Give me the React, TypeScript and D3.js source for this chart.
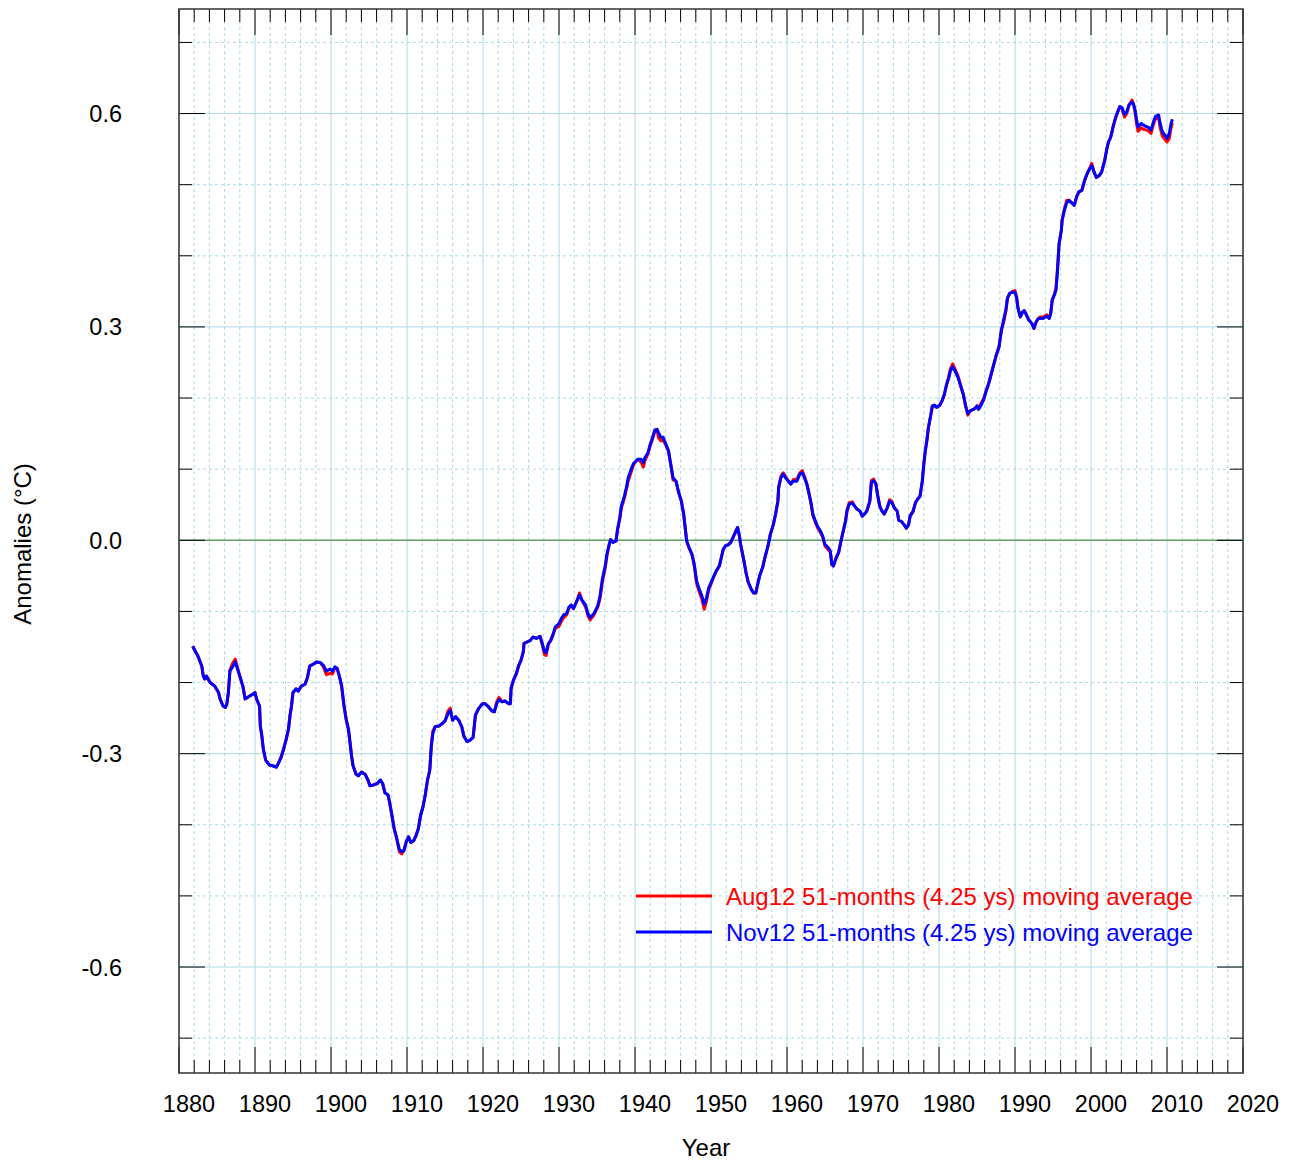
import React from "react";
import * as d3 from "d3";

// 51-month moving averages of global temperature anomalies (°C)
const nov12: [number, number][] = [
  [1881.8, -0.149], [1882.5, -0.163], [1883.0, -0.177], [1883.2, -0.191], [1883.4, -0.195], [1883.6, -0.191],
  [1884.1, -0.2], [1884.7, -0.205], [1885.2, -0.214], [1885.4, -0.223], [1885.8, -0.233], [1886.1, -0.235],
  [1886.3, -0.23], [1886.5, -0.214], [1886.7, -0.184], [1887.1, -0.177], [1887.4, -0.171], [1887.7, -0.181],
  [1888.0, -0.191], [1888.4, -0.205], [1888.7, -0.223], [1889.0, -0.221], [1889.3, -0.219], [1889.8, -0.216],
  [1890.0, -0.214], [1890.2, -0.223], [1890.6, -0.233], [1890.7, -0.261], [1890.9, -0.275], [1891.1, -0.294],
  [1891.4, -0.309], [1891.9, -0.316], [1892.3, -0.317], [1892.8, -0.319], [1893.1, -0.313], [1893.4, -0.306],
  [1893.7, -0.296], [1894.1, -0.28], [1894.4, -0.266], [1894.6, -0.247], [1894.8, -0.233], [1895.0, -0.214],
  [1895.4, -0.209], [1895.7, -0.212], [1896.1, -0.205], [1896.6, -0.202], [1896.9, -0.193], [1897.2, -0.177],
  [1897.7, -0.174], [1898.1, -0.171], [1898.6, -0.172], [1899.0, -0.176], [1899.4, -0.184], [1899.9, -0.181],
  [1900.2, -0.184], [1900.5, -0.178], [1900.8, -0.18], [1901.1, -0.191], [1901.4, -0.205], [1901.7, -0.233],
  [1902.0, -0.252], [1902.3, -0.266], [1902.5, -0.284], [1902.7, -0.303], [1902.9, -0.317], [1903.3, -0.329],
  [1903.6, -0.331], [1904.0, -0.326], [1904.5, -0.329], [1904.9, -0.338], [1905.1, -0.345], [1905.6, -0.344],
  [1906.1, -0.342], [1906.5, -0.337], [1906.8, -0.342], [1907.1, -0.355], [1907.5, -0.358], [1907.7, -0.368],
  [1908.0, -0.386], [1908.3, -0.405], [1908.6, -0.417], [1908.8, -0.426], [1909.0, -0.435], [1909.3, -0.438],
  [1909.6, -0.436], [1909.9, -0.424], [1910.2, -0.417], [1910.5, -0.425], [1910.9, -0.422], [1911.2, -0.415],
  [1911.5, -0.405], [1911.8, -0.386], [1912.1, -0.375], [1912.4, -0.358], [1912.7, -0.337], [1913.0, -0.323],
  [1913.2, -0.29], [1913.4, -0.272], [1913.7, -0.262], [1914.2, -0.261], [1914.6, -0.258], [1915.0, -0.254],
  [1915.4, -0.244], [1915.7, -0.239], [1916.0, -0.253], [1916.4, -0.248], [1916.8, -0.253], [1917.2, -0.262],
  [1917.5, -0.276], [1917.9, -0.283], [1918.3, -0.281], [1918.7, -0.277], [1919.0, -0.246], [1919.4, -0.237],
  [1919.9, -0.23], [1920.3, -0.23], [1920.7, -0.234], [1921.2, -0.24], [1921.5, -0.241], [1921.8, -0.23],
  [1922.1, -0.224], [1922.5, -0.227], [1922.9, -0.226], [1923.4, -0.23], [1923.6, -0.23], [1923.7, -0.208],
  [1924.0, -0.197], [1924.4, -0.187], [1924.7, -0.176], [1925.0, -0.169], [1925.3, -0.157], [1925.4, -0.145],
  [1925.8, -0.143], [1926.2, -0.141], [1926.6, -0.136], [1927.0, -0.138], [1927.5, -0.135], [1927.8, -0.145],
  [1928.1, -0.157], [1928.3, -0.158], [1928.6, -0.145], [1928.9, -0.141], [1929.2, -0.133], [1929.5, -0.122],
  [1930.0, -0.117], [1930.3, -0.11], [1930.6, -0.105], [1931.0, -0.103], [1931.3, -0.094], [1931.6, -0.091],
  [1931.9, -0.096], [1932.4, -0.084], [1932.7, -0.077], [1933.0, -0.084], [1933.5, -0.091], [1933.8, -0.103],
  [1934.1, -0.109], [1934.6, -0.103], [1935.1, -0.092], [1935.4, -0.078], [1935.7, -0.055], [1936.1, -0.035],
  [1936.3, -0.02], [1936.6, -0.006], [1936.8, 0.001], [1937.1, -0.003], [1937.5, -0.001], [1937.7, 0.015],
  [1938.0, 0.032], [1938.2, 0.048], [1938.6, 0.062], [1938.9, 0.076], [1939.1, 0.088], [1939.5, 0.1],
  [1939.8, 0.108], [1940.1, 0.111], [1940.4, 0.114], [1940.8, 0.114], [1941.1, 0.109], [1941.3, 0.116],
  [1941.7, 0.123], [1942.0, 0.135], [1942.3, 0.144], [1942.6, 0.155], [1942.9, 0.156], [1943.1, 0.151],
  [1943.4, 0.145], [1943.7, 0.145], [1944.0, 0.137], [1944.4, 0.126], [1944.7, 0.107], [1945.0, 0.088],
  [1945.4, 0.083], [1945.7, 0.069], [1946.1, 0.055], [1946.4, 0.037], [1946.6, 0.018], [1946.8, -0.001],
  [1947.1, -0.01], [1947.5, -0.02], [1947.8, -0.034], [1948.1, -0.057], [1948.4, -0.067], [1948.8, -0.078],
  [1949.1, -0.09], [1949.4, -0.081], [1949.7, -0.067], [1950.1, -0.057], [1950.4, -0.05], [1950.7, -0.043],
  [1951.1, -0.036], [1951.3, -0.027], [1951.6, -0.013], [1951.9, -0.008], [1952.3, -0.006], [1952.6, -0.003],
  [1952.9, 0.004], [1953.2, 0.011], [1953.5, 0.018], [1953.7, 0.008], [1953.9, -0.006], [1954.3, -0.027],
  [1954.6, -0.045], [1954.9, -0.059], [1955.3, -0.069], [1955.6, -0.074], [1955.9, -0.074], [1956.1, -0.064],
  [1956.4, -0.05], [1956.8, -0.038], [1957.1, -0.024], [1957.5, -0.008], [1957.8, 0.008], [1958.2, 0.022],
  [1958.5, 0.037], [1958.8, 0.055], [1958.9, 0.074], [1959.2, 0.088], [1959.5, 0.093], [1959.8, 0.088],
  [1960.2, 0.083], [1960.5, 0.079], [1960.8, 0.083], [1961.3, 0.083], [1961.7, 0.093], [1962.0, 0.095],
  [1962.3, 0.088], [1962.6, 0.079], [1962.9, 0.065], [1963.2, 0.051], [1963.4, 0.037], [1963.7, 0.028],
  [1964.0, 0.02], [1964.4, 0.013], [1964.7, 0.006], [1965.0, -0.006], [1965.4, -0.01], [1965.7, -0.015],
  [1965.9, -0.034], [1966.1, -0.036], [1966.5, -0.024], [1966.8, -0.017], [1967.1, -0.001], [1967.4, 0.013],
  [1967.7, 0.027], [1967.9, 0.041], [1968.2, 0.051], [1968.6, 0.052], [1968.9, 0.048], [1969.2, 0.044],
  [1969.6, 0.041], [1969.9, 0.034], [1970.2, 0.037], [1970.5, 0.041], [1970.9, 0.055], [1971.1, 0.081],
  [1971.4, 0.084], [1971.7, 0.079], [1971.9, 0.065], [1972.2, 0.048], [1972.5, 0.041], [1972.8, 0.037],
  [1973.2, 0.046], [1973.5, 0.055], [1973.8, 0.053], [1974.1, 0.046], [1974.5, 0.041], [1974.7, 0.028],
  [1975.0, 0.027], [1975.4, 0.022], [1975.7, 0.017], [1976.0, 0.022], [1976.2, 0.034], [1976.6, 0.041],
  [1976.9, 0.053], [1977.2, 0.058], [1977.5, 0.062], [1977.8, 0.083], [1978.0, 0.107], [1978.2, 0.126],
  [1978.4, 0.14], [1978.6, 0.158], [1978.9, 0.175], [1979.1, 0.189], [1979.4, 0.19], [1979.7, 0.187],
  [1980.1, 0.19], [1980.4, 0.196], [1980.7, 0.205], [1981.0, 0.219], [1981.3, 0.229], [1981.5, 0.238],
  [1981.8, 0.244], [1982.1, 0.238], [1982.5, 0.229], [1982.8, 0.219], [1983.2, 0.205], [1983.5, 0.189],
  [1983.8, 0.178], [1984.1, 0.182], [1984.5, 0.184], [1984.8, 0.186], [1985.0, 0.189], [1985.2, 0.184],
  [1985.5, 0.189], [1985.9, 0.198], [1986.2, 0.21], [1986.5, 0.219], [1986.8, 0.231], [1987.2, 0.247],
  [1987.5, 0.259], [1987.9, 0.272], [1988.2, 0.295], [1988.5, 0.31], [1988.8, 0.324], [1989.0, 0.34],
  [1989.3, 0.347], [1989.6, 0.349], [1990.0, 0.348], [1990.2, 0.342], [1990.4, 0.326], [1990.7, 0.314],
  [1991.0, 0.321], [1991.2, 0.323], [1991.5, 0.317], [1991.8, 0.31], [1992.2, 0.305], [1992.5, 0.298],
  [1992.7, 0.305], [1993.0, 0.311], [1993.3, 0.312], [1993.7, 0.312], [1994.2, 0.315], [1994.5, 0.312],
  [1994.7, 0.319], [1994.9, 0.338], [1995.2, 0.345], [1995.4, 0.352], [1995.6, 0.38], [1995.8, 0.417],
  [1996.1, 0.436], [1996.2, 0.45], [1996.5, 0.464], [1996.8, 0.474], [1997.1, 0.478], [1997.5, 0.474],
  [1997.8, 0.471], [1998.1, 0.483], [1998.4, 0.49], [1998.8, 0.492], [1999.1, 0.504], [1999.4, 0.513],
  [1999.7, 0.52], [2000.1, 0.527], [2000.4, 0.518], [2000.7, 0.51], [2001.1, 0.513], [2001.4, 0.518],
  [2001.8, 0.534], [2002.1, 0.551], [2002.3, 0.56], [2002.6, 0.567], [2002.9, 0.581], [2003.2, 0.593],
  [2003.5, 0.602], [2003.8, 0.61], [2004.1, 0.608], [2004.4, 0.599], [2004.7, 0.602], [2005.0, 0.612],
  [2005.4, 0.616], [2005.6, 0.613], [2005.8, 0.605], [2006.0, 0.591], [2006.2, 0.581], [2006.6, 0.586],
  [2006.9, 0.584], [2007.2, 0.582], [2007.5, 0.581], [2007.9, 0.577], [2008.2, 0.588], [2008.5, 0.596],
  [2008.9, 0.598], [2009.1, 0.586], [2009.4, 0.574], [2009.7, 0.57], [2010.0, 0.565], [2010.3, 0.572],
  [2010.5, 0.584], [2010.7, 0.592],
];

// Aug12 version: nearly the same, only differs where red shows from under the blue
const aug12: [number, number][] = [
  [1881.8, -0.149], [1882.5, -0.163], [1883.0, -0.177], [1883.2, -0.191], [1883.4, -0.195], [1883.6, -0.191],
  [1884.1, -0.2], [1884.7, -0.205], [1885.2, -0.214], [1885.4, -0.223], [1885.8, -0.233], [1886.1, -0.235],
  [1886.3, -0.23], [1886.5, -0.214], [1886.7, -0.182], [1887.1, -0.172], [1887.4, -0.167], [1887.7, -0.179],
  [1888.0, -0.191], [1888.4, -0.205], [1888.7, -0.223], [1889.0, -0.221], [1889.3, -0.219], [1889.8, -0.216],
  [1890.0, -0.214], [1890.2, -0.223], [1890.6, -0.233], [1890.7, -0.261], [1890.9, -0.275], [1891.1, -0.294],
  [1891.4, -0.309], [1891.9, -0.316], [1892.3, -0.317], [1892.8, -0.319], [1893.1, -0.313], [1893.4, -0.306],
  [1893.7, -0.296], [1894.1, -0.28], [1894.4, -0.266], [1894.6, -0.247], [1894.8, -0.233], [1895.0, -0.214],
  [1895.4, -0.209], [1895.7, -0.212], [1896.1, -0.205], [1896.6, -0.202], [1896.9, -0.193], [1897.2, -0.177],
  [1897.7, -0.174], [1898.1, -0.171], [1898.6, -0.172], [1899.0, -0.178], [1899.4, -0.189], [1899.9, -0.187],
  [1900.2, -0.188], [1900.5, -0.18], [1900.8, -0.18], [1901.1, -0.191], [1901.4, -0.205], [1901.7, -0.23],
  [1902.0, -0.252], [1902.3, -0.266], [1902.5, -0.284], [1902.7, -0.303], [1902.9, -0.317], [1903.3, -0.329],
  [1903.6, -0.331], [1904.0, -0.326], [1904.5, -0.329], [1904.9, -0.338], [1905.1, -0.345], [1905.6, -0.344],
  [1906.1, -0.342], [1906.5, -0.337], [1906.8, -0.342], [1907.1, -0.355], [1907.5, -0.358], [1907.7, -0.368],
  [1908.0, -0.386], [1908.3, -0.405], [1908.6, -0.417], [1908.8, -0.428], [1909.0, -0.438], [1909.3, -0.441],
  [1909.6, -0.436], [1909.9, -0.424], [1910.2, -0.417], [1910.5, -0.425], [1910.9, -0.422], [1911.2, -0.415],
  [1911.5, -0.405], [1911.8, -0.386], [1912.1, -0.375], [1912.4, -0.358], [1912.7, -0.337], [1913.0, -0.323],
  [1913.2, -0.287], [1913.4, -0.268], [1913.7, -0.262], [1914.2, -0.261], [1914.6, -0.258], [1915.0, -0.254],
  [1915.4, -0.24], [1915.7, -0.236], [1916.0, -0.253], [1916.4, -0.248], [1916.8, -0.253], [1917.2, -0.262],
  [1917.5, -0.276], [1917.9, -0.283], [1918.3, -0.281], [1918.7, -0.277], [1919.0, -0.246], [1919.4, -0.237],
  [1919.9, -0.23], [1920.3, -0.23], [1920.7, -0.234], [1921.2, -0.24], [1921.5, -0.241], [1921.8, -0.227],
  [1922.1, -0.221], [1922.5, -0.227], [1922.9, -0.226], [1923.4, -0.23], [1923.6, -0.23], [1923.7, -0.208],
  [1924.0, -0.197], [1924.4, -0.187], [1924.7, -0.176], [1925.0, -0.169], [1925.3, -0.157], [1925.4, -0.145],
  [1925.8, -0.143], [1926.2, -0.141], [1926.6, -0.136], [1927.0, -0.138], [1927.5, -0.135], [1927.8, -0.147],
  [1928.1, -0.161], [1928.3, -0.162], [1928.6, -0.147], [1928.9, -0.141], [1929.2, -0.133], [1929.5, -0.124],
  [1930.0, -0.121], [1930.3, -0.114], [1930.6, -0.109], [1931.0, -0.105], [1931.3, -0.096], [1931.6, -0.091],
  [1931.9, -0.096], [1932.4, -0.084], [1932.7, -0.074], [1933.0, -0.084], [1933.5, -0.094], [1933.8, -0.106],
  [1934.1, -0.112], [1934.6, -0.105], [1935.1, -0.094], [1935.4, -0.082], [1935.7, -0.059], [1936.1, -0.038],
  [1936.3, -0.022], [1936.6, -0.006], [1936.8, 0.001], [1937.1, -0.003], [1937.5, -0.001], [1937.7, 0.015],
  [1938.0, 0.03], [1938.2, 0.045], [1938.6, 0.059], [1938.9, 0.073], [1939.1, 0.083], [1939.5, 0.096],
  [1939.8, 0.106], [1940.1, 0.111], [1940.4, 0.114], [1940.8, 0.11], [1941.1, 0.103], [1941.3, 0.112],
  [1941.7, 0.121], [1942.0, 0.133], [1942.3, 0.142], [1942.6, 0.153], [1942.9, 0.155], [1943.1, 0.144],
  [1943.4, 0.14], [1943.7, 0.141], [1944.0, 0.135], [1944.4, 0.126], [1944.7, 0.107], [1945.0, 0.085],
  [1945.4, 0.083], [1945.7, 0.069], [1946.1, 0.055], [1946.4, 0.037], [1946.6, 0.018], [1946.8, -0.001],
  [1947.1, -0.01], [1947.5, -0.02], [1947.8, -0.036], [1948.1, -0.06], [1948.4, -0.071], [1948.8, -0.083],
  [1949.1, -0.097], [1949.4, -0.086], [1949.7, -0.07], [1950.1, -0.059], [1950.4, -0.05], [1950.7, -0.043],
  [1951.1, -0.036], [1951.3, -0.027], [1951.6, -0.013], [1951.9, -0.008], [1952.3, -0.006], [1952.6, -0.003],
  [1952.9, 0.004], [1953.2, 0.011], [1953.5, 0.018], [1953.7, 0.008], [1953.9, -0.006], [1954.3, -0.027],
  [1954.6, -0.045], [1954.9, -0.059], [1955.3, -0.069], [1955.6, -0.074], [1955.9, -0.074], [1956.1, -0.064],
  [1956.4, -0.05], [1956.8, -0.038], [1957.1, -0.024], [1957.5, -0.008], [1957.8, 0.008], [1958.2, 0.022],
  [1958.5, 0.037], [1958.8, 0.055], [1958.9, 0.074], [1959.2, 0.09], [1959.5, 0.095], [1959.8, 0.09],
  [1960.2, 0.083], [1960.5, 0.079], [1960.8, 0.085], [1961.3, 0.086], [1961.7, 0.095], [1962.0, 0.098],
  [1962.3, 0.09], [1962.6, 0.08], [1962.9, 0.067], [1963.2, 0.048], [1963.4, 0.035], [1963.7, 0.026],
  [1964.0, 0.018], [1964.4, 0.011], [1964.7, 0.004], [1965.0, -0.008], [1965.4, -0.013], [1965.7, -0.017],
  [1965.9, -0.034], [1966.1, -0.036], [1966.5, -0.024], [1966.8, -0.017], [1967.1, -0.001], [1967.4, 0.013],
  [1967.7, 0.027], [1967.9, 0.043], [1968.2, 0.053], [1968.6, 0.054], [1968.9, 0.048], [1969.2, 0.044],
  [1969.6, 0.041], [1969.9, 0.034], [1970.2, 0.037], [1970.5, 0.041], [1970.9, 0.055], [1971.1, 0.084],
  [1971.4, 0.086], [1971.7, 0.079], [1971.9, 0.065], [1972.2, 0.048], [1972.5, 0.041], [1972.8, 0.037],
  [1973.2, 0.046], [1973.5, 0.057], [1973.8, 0.055], [1974.1, 0.046], [1974.5, 0.041], [1974.7, 0.028],
  [1975.0, 0.027], [1975.4, 0.022], [1975.7, 0.017], [1976.0, 0.022], [1976.2, 0.034], [1976.6, 0.041],
  [1976.9, 0.053], [1977.2, 0.058], [1977.5, 0.062], [1977.8, 0.083], [1978.0, 0.107], [1978.2, 0.126],
  [1978.4, 0.14], [1978.6, 0.158], [1978.9, 0.175], [1979.1, 0.186], [1979.4, 0.19], [1979.7, 0.187],
  [1980.1, 0.19], [1980.4, 0.196], [1980.7, 0.205], [1981.0, 0.219], [1981.3, 0.231], [1981.5, 0.241],
  [1981.8, 0.248], [1982.1, 0.241], [1982.5, 0.231], [1982.8, 0.219], [1983.2, 0.205], [1983.5, 0.189],
  [1983.8, 0.176], [1984.1, 0.182], [1984.5, 0.184], [1984.8, 0.186], [1985.0, 0.189], [1985.2, 0.186],
  [1985.5, 0.192], [1985.9, 0.2], [1986.2, 0.21], [1986.5, 0.219], [1986.8, 0.231], [1987.2, 0.247],
  [1987.5, 0.259], [1987.9, 0.272], [1988.2, 0.295], [1988.5, 0.306], [1988.8, 0.322], [1989.0, 0.34],
  [1989.3, 0.347], [1989.6, 0.349], [1990.0, 0.351], [1990.2, 0.342], [1990.4, 0.326], [1990.7, 0.314],
  [1991.0, 0.321], [1991.2, 0.323], [1991.5, 0.317], [1991.8, 0.31], [1992.2, 0.305], [1992.5, 0.298],
  [1992.7, 0.305], [1993.0, 0.311], [1993.3, 0.314], [1993.7, 0.314], [1994.2, 0.317], [1994.5, 0.312],
  [1994.7, 0.319], [1994.9, 0.338], [1995.2, 0.347], [1995.4, 0.355], [1995.6, 0.384], [1995.8, 0.417],
  [1996.1, 0.436], [1996.2, 0.45], [1996.5, 0.466], [1996.8, 0.478], [1997.1, 0.478], [1997.5, 0.474],
  [1997.8, 0.471], [1998.1, 0.483], [1998.4, 0.49], [1998.8, 0.492], [1999.1, 0.504], [1999.4, 0.513],
  [1999.7, 0.52], [2000.1, 0.53], [2000.4, 0.518], [2000.7, 0.51], [2001.1, 0.513], [2001.4, 0.518],
  [2001.8, 0.534], [2002.1, 0.551], [2002.3, 0.56], [2002.6, 0.567], [2002.9, 0.581], [2003.2, 0.593],
  [2003.5, 0.602], [2003.8, 0.61], [2004.1, 0.606], [2004.4, 0.595], [2004.7, 0.6], [2005.0, 0.612],
  [2005.4, 0.619], [2005.6, 0.613], [2005.8, 0.602], [2006.0, 0.585], [2006.2, 0.575], [2006.6, 0.58],
  [2006.9, 0.578], [2007.2, 0.577], [2007.5, 0.576], [2007.9, 0.572], [2008.2, 0.584], [2008.5, 0.593],
  [2008.9, 0.594], [2009.1, 0.58], [2009.4, 0.568], [2009.7, 0.564], [2010.0, 0.56], [2010.3, 0.565],
  [2010.5, 0.578], [2010.7, 0.587],
];

const xMajorTicks = [1880, 1890, 1900, 1910, 1920, 1930, 1940, 1950, 1960, 1970, 1980, 1990, 2000, 2010, 2020];
const xTickLabels = ["1880", "1890", "1900", "1910", "1920", "1930", "1940", "1950", "1960", "1970", "1980", "1990", "2000", "2010", "2020"];
const yMajorTicks = [-0.6, -0.3, 0, 0.3, 0.6];
const yTickLabels = ["-0.6", "-0.3", "0.0", "0.3", "0.6"];
const yMinorTicks = [-0.7, -0.5, -0.4, -0.2, -0.1, 0.1, 0.2, 0.4, 0.5, 0.7];

const seriesNames = ["Aug12 51-months (4.25 ys) moving average", "Nov12 51-months (4.25 ys) moving average"];
const seriesColors = ["#ff0000", "#0000ff"];

const width = 1296;
const height = 1160;
const left = 179, right = 1243, top = 9, bottom = 1073;
const font = "'Liberation Sans', Arial, Helvetica, sans-serif";
const gridColor = "#add8e6";

export default function App() {
  const x = d3.scaleLinear().domain([1880, 2020]).range([left, right]);
  const y = d3.scaleLinear().domain([-0.749, 0.747]).range([bottom, top]);

  const xMinor = d3.range(1882, 2020, 2).filter((d) => d % 10 !== 0);

  const line = d3
    .line<[number, number]>()
    .x((d) => x(d[0]))
    .y((d) => y(d[1]));

  const majorLen = 26;
  const minorLen = 13;

  return (
    <svg
      width={width}
      height={height}
      style={{ position: "absolute", left: 0, top: 0, background: "#fff" }}
      fontFamily={font}
    >
      {/* grid */}
      <g>
        {xMinor.map((t) => (
          <line key={"xg" + t} x1={x(t)} x2={x(t)} y1={top} y2={bottom} stroke={gridColor} strokeDasharray="3,3" />
        ))}
        {xMajorTicks.map((t) => (
          <line key={"xG" + t} x1={x(t)} x2={x(t)} y1={top} y2={bottom} stroke={gridColor} />
        ))}
        {yMinorTicks.map((t) => (
          <line key={"yg" + t} x1={left} x2={right} y1={y(t)} y2={y(t)} stroke={gridColor} strokeDasharray="3,3" />
        ))}
        {yMajorTicks
          .filter((t) => t !== 0)
          .map((t) => (
            <line key={"yG" + t} x1={left} x2={right} y1={y(t)} y2={y(t)} stroke={gridColor} />
          ))}
        <line x1={left} x2={right} y1={y(0)} y2={y(0)} stroke="#5e9e64" strokeWidth={1.5} />
      </g>

      {/* ticks, pointing inward on all four sides */}
      <g stroke="#000" strokeWidth={1}>
        {xMajorTicks.map((t) => (
          <g key={"xt" + t}>
            <line x1={x(t)} x2={x(t)} y1={bottom} y2={bottom - majorLen} />
            <line x1={x(t)} x2={x(t)} y1={top} y2={top + majorLen} />
          </g>
        ))}
        {xMinor.map((t) => (
          <g key={"xm" + t}>
            <line x1={x(t)} x2={x(t)} y1={bottom} y2={bottom - minorLen} />
            <line x1={x(t)} x2={x(t)} y1={top} y2={top + minorLen} />
          </g>
        ))}
        {yMajorTicks.map((t) => (
          <g key={"yt" + t}>
            <line x1={left} x2={left + majorLen} y1={y(t)} y2={y(t)} />
            <line x1={right} x2={right - majorLen} y1={y(t)} y2={y(t)} />
          </g>
        ))}
        {yMinorTicks.map((t) => (
          <g key={"ym" + t}>
            <line x1={left} x2={left + minorLen} y1={y(t)} y2={y(t)} />
            <line x1={right} x2={right - minorLen} y1={y(t)} y2={y(t)} />
          </g>
        ))}
      </g>

      {/* data */}
      <path d={line(aug12) || ""} fill="none" stroke={seriesColors[0]} strokeWidth={3} strokeLinejoin="round" />
      <path d={line(nov12) || ""} fill="none" stroke={seriesColors[1]} strokeWidth={3} strokeLinejoin="round" />

      {/* frame */}
      <rect x={left} y={top} width={right - left} height={bottom - top} fill="none" stroke="#333" strokeWidth={1.5} />

      {/* tick labels */}
      <g fontSize={23.5} fill="#000">
        {xMajorTicks.map((t, i) => (
          <text key={"xl" + t} x={x(t) + 10} y={1112} textAnchor="middle">
            {xTickLabels[i]}
          </text>
        ))}
        {yMajorTicks.map((t, i) => (
          <text key={"yl" + t} x={122} y={y(t) + 8.5} textAnchor="end">
            {yTickLabels[i]}
          </text>
        ))}
      </g>

      {/* axis titles */}
      <text x={706} y={1156} textAnchor="middle" fontSize={24}>
        Year
      </text>
      <text transform="translate(31,544) rotate(-90)" textAnchor="middle" fontSize={24}>
        Anomalies (°C)
      </text>

      {/* legend */}
      <g fontSize={24}>
        {seriesNames.map((name, i) => (
          <g key={name} transform={`translate(0,${896 + i * 36})`}>
            <line x1={636} x2={712} y1={0} y2={0} stroke={seriesColors[i]} strokeWidth={3} />
            <text x={726} y={8.5} fill={seriesColors[i]}>
              {name}
            </text>
          </g>
        ))}
      </g>
    </svg>
  );
}
